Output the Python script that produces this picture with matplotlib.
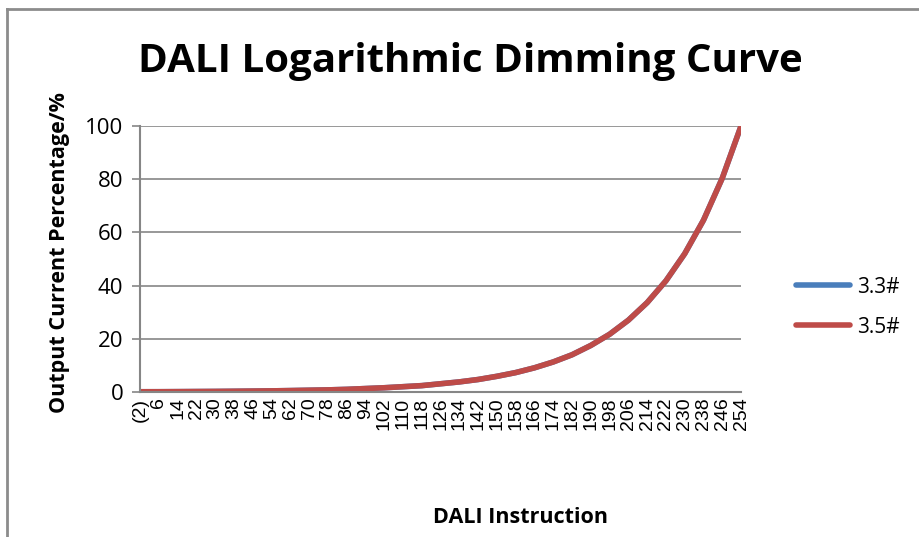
import matplotlib
matplotlib.use('Agg')
import matplotlib.pyplot as plt
from matplotlib.lines import Line2D

plt.rcParams['font.family'] = ['Open Sans', 'DejaVu Sans']

# DALI instruction labels on the category axis
labels = ['(2)', '6', '14', '22', '30', '38', '46', '54', '62', '70', '78', '86',
          '94', '102', '110', '118', '126', '134', '142', '150', '158', '166',
          '174', '182', '190', '198', '206', '214', '222', '230', '238', '246', '254']

# output current in %
s33 = [0.1, 0.11, 0.14, 0.18, 0.22, 0.28, 0.35, 0.43, 0.54, 0.67, 0.8, 1.0,
       1.3, 1.6, 2.0, 2.4, 3.1, 3.8, 4.7, 5.9, 7.3, 9.1, 11.3, 14.0, 17.5,
       21.7, 27.0, 33.6, 41.8, 52.0, 64.6, 80.4, 100.0]
s35 = [0.1, 0.11, 0.14, 0.18, 0.22, 0.28, 0.35, 0.43, 0.54, 0.67, 0.8, 1.0,
       1.3, 1.6, 2.0, 2.4, 3.1, 3.8, 4.7, 5.9, 7.3, 9.1, 11.3, 14.0, 17.5,
       21.7, 27.0, 33.6, 41.8, 52.0, 64.6, 80.4, 100.0]

fig = plt.figure(figsize=(9.2, 5.37), dpi=100)
ax = fig.add_axes([0.1522, 0.270, 0.6533, 0.4954])

x = list(range(len(labels)))
ax.plot(x, s33, color='#4a7ebb', lw=4, solid_capstyle='round', label='3.3#')
ax.plot(x, s35, color='#be4b48', lw=4, solid_capstyle='round', label='3.5#')

ax.set_xlim(0, len(labels) - 1)
ax.set_ylim(0, 100)
ax.set_yticks([0, 20, 40, 60, 80, 100])
ax.set_xticks(x)
ax.set_xticklabels(labels, rotation=90, fontsize=14, family=['Liberation Sans'])
ax.tick_params(axis='y', labelsize=16, length=6, color='#868686', width=1.2, pad=6)
ax.tick_params(axis='x', length=0, pad=4)

ax.grid(axis='y', color='#868686', lw=1.2)
ax.set_axisbelow(True)
for side in ['top', 'right']:
    ax.spines[side].set_visible(False)
ax.spines['left'].set_color('#868686')
ax.spines['left'].set_linewidth(1.5)
ax.spines['bottom'].set_color('#868686')
ax.spines['bottom'].set_linewidth(1.5)

fig.text(0.511, 0.885, 'DALI Logarithmic Dimming Curve', ha='center', va='center',
         fontsize=29, fontweight='bold')
fig.text(0.065, 0.53, 'Output Current Percentage/%', rotation=90, ha='center',
         va='center', fontsize=15.5, fontweight='bold')
fig.text(0.566, 0.037, 'DALI Instruction', ha='center', va='center',
         fontsize=15.5, fontweight='bold')

leg = fig.legend(loc='center left', bbox_to_anchor=(0.845, 0.428), frameon=False,
                 fontsize=15, handlelength=2.6, labelspacing=0.9, handletextpad=0.3)

# outer chart border (only top and left are visible in the crop)
fig.add_artist(Line2D([0.0076, 1.0], [1 - 9 / 537, 1 - 9 / 537], color='#8c8c8c', lw=2,
                      transform=fig.transFigure))
fig.add_artist(Line2D([0.0076, 0.0076], [0.0, 1 - 9 / 537], color='#8c8c8c', lw=2,
                      transform=fig.transFigure))

fig.savefig('out.png', dpi=100)
